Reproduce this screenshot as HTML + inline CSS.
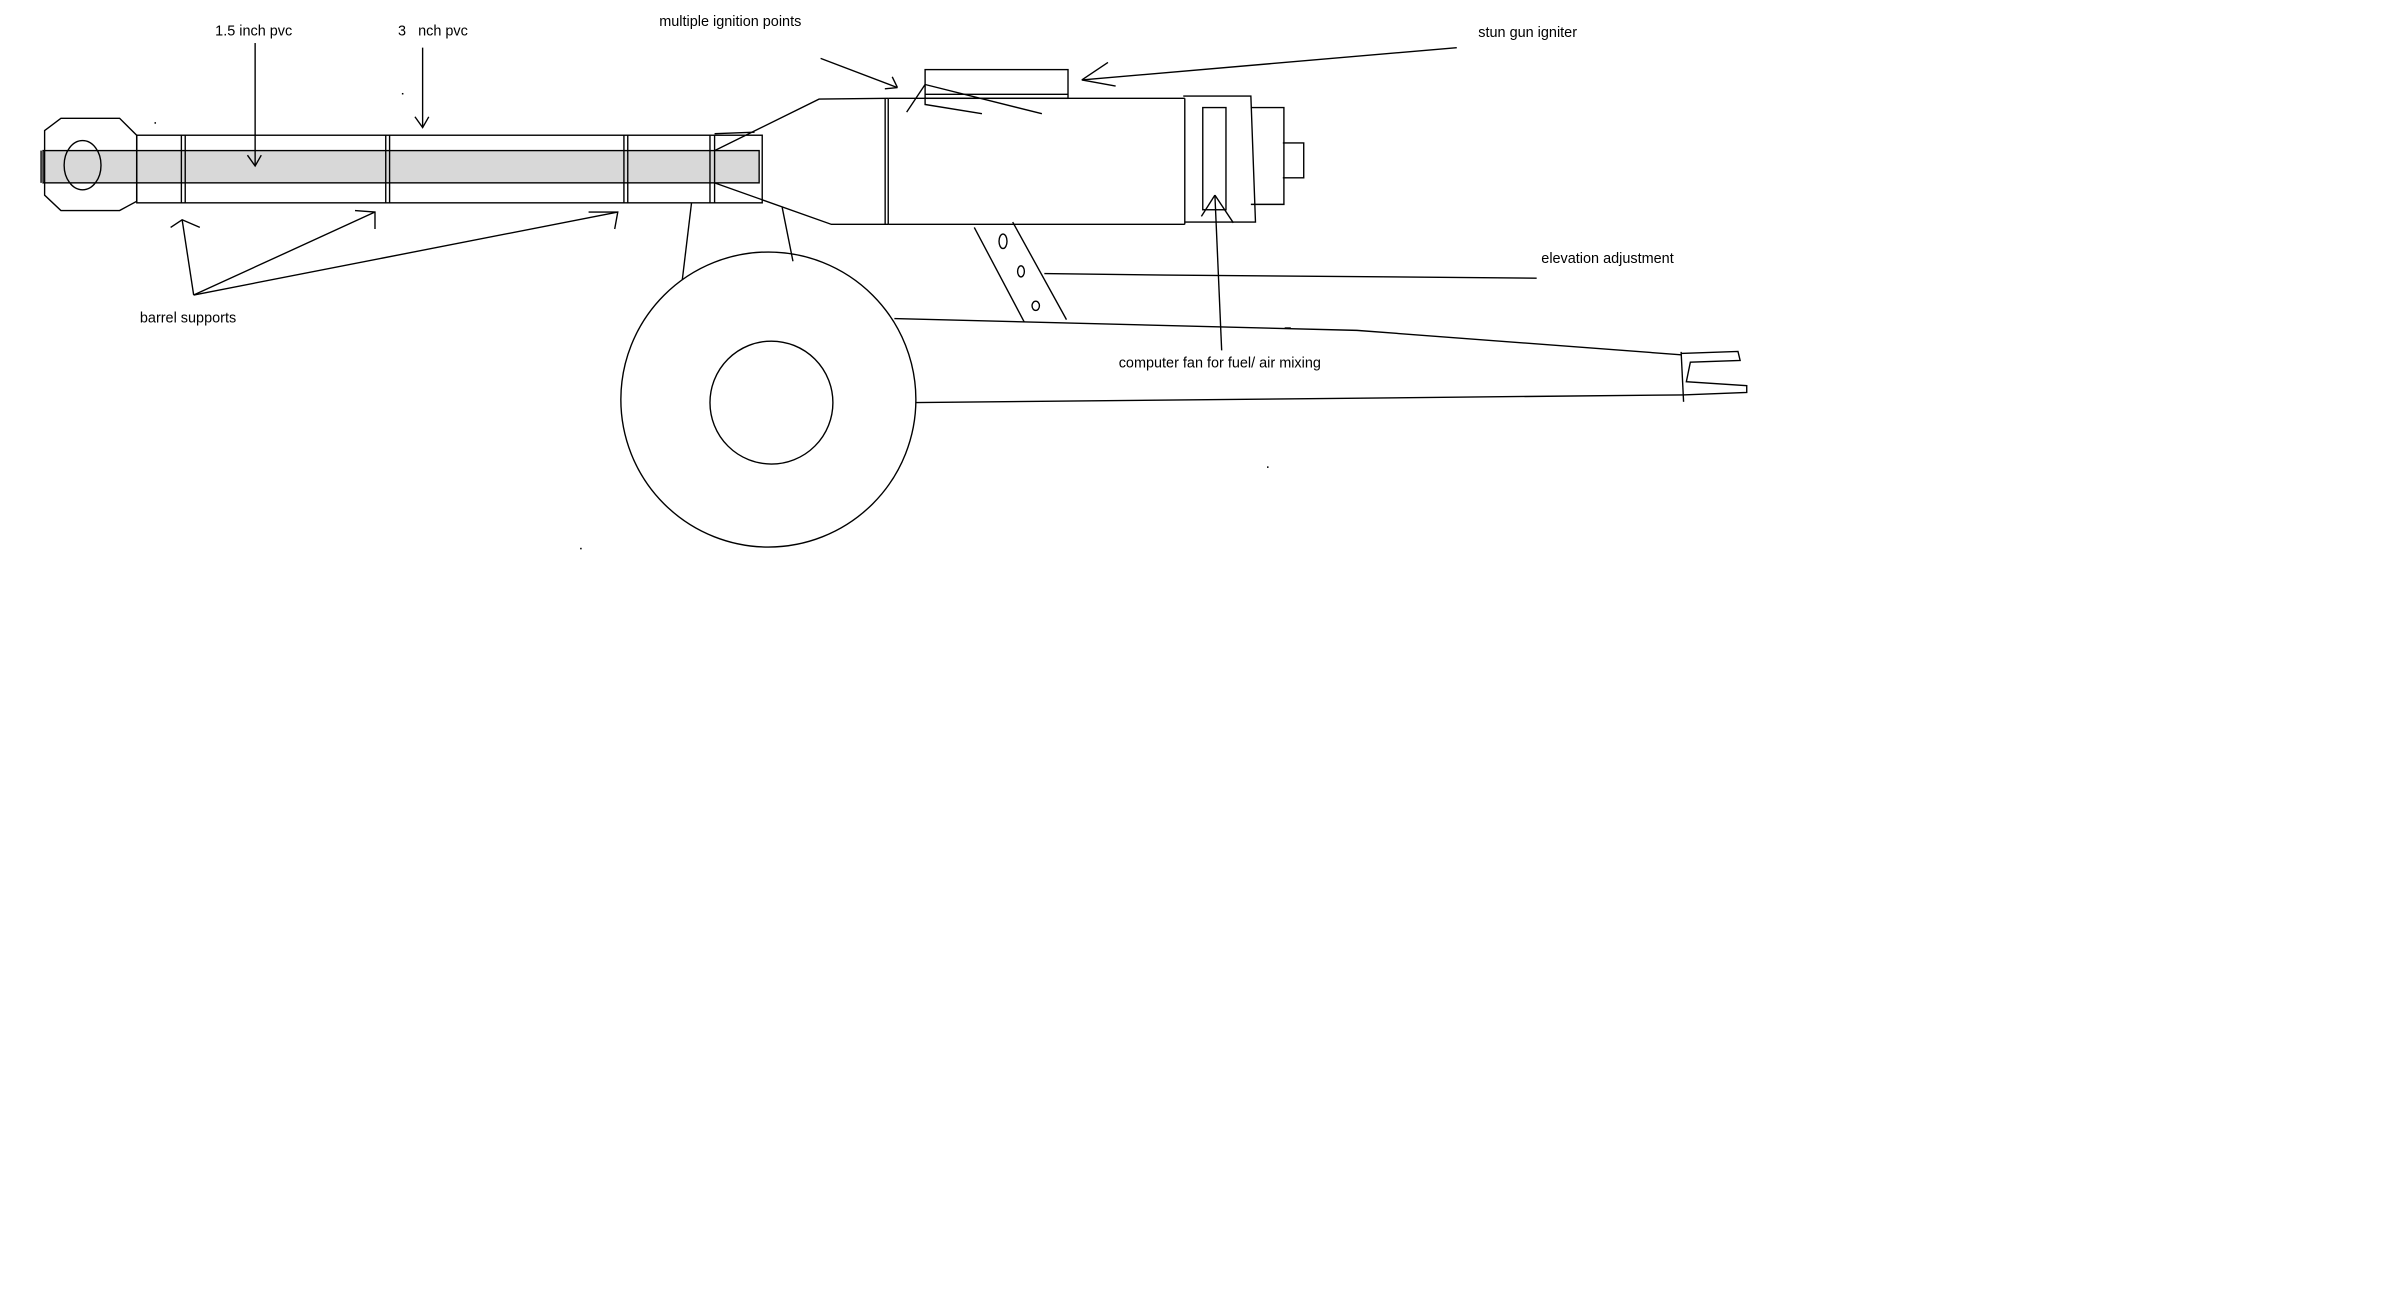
<!DOCTYPE html>
<html><head><meta charset="utf-8"><style>
html,body{margin:0;padding:0;background:#fff;}
svg{display:block;}
text{font-family:"Liberation Sans",Arial,sans-serif;font-size:9.4px;fill:#000;}
</style></head><body>
<svg width="2408" height="1290" viewBox="0 0 1567 839.5" xmlns="http://www.w3.org/2000/svg">
<rect width="1567" height="839.5" fill="#fff"/>
<g fill="none" stroke="#000" stroke-width="0.9">
<rect x="28" y="98" width="466" height="21" fill="#d8d8d8"/>
<rect x="89" y="88" width="407" height="44"/>
<polygon points="29,85 39.6,77 77.8,77 88.9,88 88.9,131 77.8,137 39.6,137 29,127"/>
<ellipse cx="53.7" cy="107.5" rx="12" ry="16"/>
<line x1="26.7" y1="98" x2="26.7" y2="119"/>
<line x1="118" y1="88" x2="118" y2="132"/><line x1="120.5" y1="88" x2="120.5" y2="132"/>
<line x1="251" y1="88" x2="251" y2="132"/><line x1="253.5" y1="88" x2="253.5" y2="132"/>
<line x1="406" y1="88" x2="406" y2="132"/><line x1="408.5" y1="88" x2="408.5" y2="132"/>
<line x1="462" y1="88" x2="462" y2="132"/><line x1="465" y1="88" x2="465" y2="132"/>
<polyline points="465,98 533,64.5 578,64"/>
<polyline points="465,119 541,146 578,146"/>
<line x1="465" y1="87" x2="491" y2="86"/>
<line x1="578" y1="64" x2="771" y2="64"/>
<line x1="578" y1="146" x2="771" y2="146"/>
<line x1="576" y1="64" x2="576" y2="146"/><line x1="578" y1="64" x2="578" y2="146"/>
<line x1="771" y1="64" x2="771" y2="146"/>
<polyline points="770,62.5 814,62.5 817,144.5 771,144.5"/>
<rect x="782.7" y="70" width="15.1" height="66.5"/>
<polyline points="814,70 835.5,70 835.5,133 814,133"/>
<polyline points="834.8,93 848.4,93 848.4,115.7 834.8,115.7"/>
<rect x="602" y="45.3" width="93" height="18.7"/>
<line x1="602" y1="61.4" x2="695" y2="61.4"/>
<line x1="602" y1="55" x2="678" y2="74"/>
<line x1="602" y1="55" x2="590" y2="73"/>
<polyline points="602,64 602,68 639,74"/>
<line x1="534" y1="38" x2="584" y2="57"/>
<line x1="580.6" y1="50" x2="584" y2="57"/>
<line x1="575.8" y1="57.8" x2="584" y2="57"/>
<line x1="948" y1="31" x2="704" y2="52"/>
<line x1="721" y1="40.6" x2="704" y2="52"/>
<line x1="726" y1="56" x2="704" y2="52"/>
<line x1="790.6" y1="127" x2="795" y2="228"/>
<line x1="790.6" y1="127" x2="781.8" y2="140.8"/>
<line x1="790.6" y1="127" x2="802.6" y2="145"/>
<line x1="166" y1="28" x2="166" y2="107.5"/>
<polyline points="161,101 166,108 170,101"/>
<line x1="275" y1="31" x2="275" y2="83"/>
<polyline points="270,76 275,83 279,76"/>
<line x1="126" y1="192" x2="118.5" y2="143"/>
<polyline points="111,148 118.5,143 130,148"/>
<line x1="126" y1="192" x2="244" y2="138"/>
<polyline points="231,137 244,138 244,149"/>
<line x1="126" y1="192" x2="402" y2="138"/>
<polyline points="383,138 402,138 400,149"/>
<line x1="450" y1="132" x2="444" y2="182"/>
<line x1="509" y1="135" x2="516" y2="170"/>
<circle cx="500" cy="260" r="96"/>
<circle cx="502" cy="262" r="40"/>
<line x1="634" y1="148" x2="666.5" y2="209.5"/>
<line x1="659" y1="144.5" x2="694" y2="208"/>
<ellipse cx="652.7" cy="157" rx="2.6" ry="4.7"/>
<ellipse cx="664.4" cy="176.6" rx="2.2" ry="3.6"/>
<ellipse cx="674" cy="199" rx="2.4" ry="3"/>
<polyline points="679.6,178 758,179 1000,181"/>
<polyline points="582,207.3 883,215 1094,230.9"/>
<line x1="596" y1="262" x2="1095" y2="257"/>
<line x1="1094" y1="229" x2="1095.6" y2="261.5"/>
<polyline points="1094,230 1131,228.7 1132.4,234.6 1100,235.7 1097.4,248.4 1136.7,251 1136.7,255.4 1095,257"/>
</g>
<g fill="#000">
<rect x="100.5" y="79.5" width="1" height="1"/>
<rect x="261.5" y="60.5" width="1" height="1"/>
<rect x="377.5" y="356.5" width="1" height="1"/>
<rect x="824.5" y="303.5" width="1" height="1"/>
<rect x="836" y="213" width="4" height="1"/>
</g>
<text x="140" y="23">1.5 inch pvc</text>
<text x="259" y="23" xml:space="preserve">3   nch pvc</text>
<text x="429" y="17">multiple ignition points</text>
<text x="962" y="24">stun gun igniter</text>
<text x="1003" y="171">elevation adjustment</text>
<text x="728" y="239">computer fan for fuel/ air mixing</text>
<text x="91" y="210">barrel supports</text>
</svg>
</body></html>
